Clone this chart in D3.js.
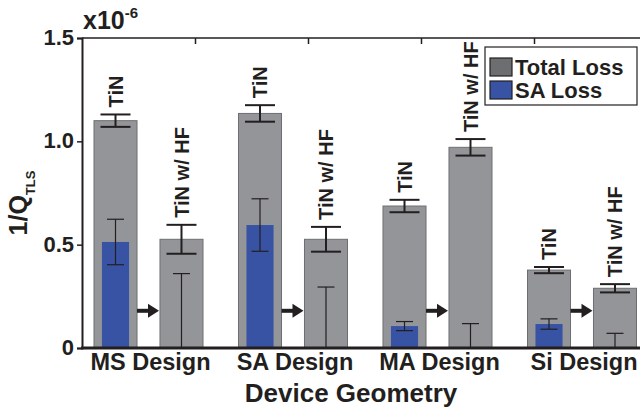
<!DOCTYPE html>
<html>
<head>
<meta charset="utf-8">
<script src="https://cdn.jsdelivr.net/npm/d3@7"></script>
<style>
  body { margin: 0; background: #fff; }
  text { font-family: "Liberation Sans", Arial, sans-serif; font-weight: bold; fill: #231f20; }
</style>
</head>
<body>
<div id="chart"></div>
<script>
// values (units of 1e-6)
const groups = ["MS Design", "SA Design", "MA Design", "Si Design"];
const conditions = ["TiN", "TiN w/ HF"];
const totalTiN = [1.10, 1.135, 0.687, 0.377];
const totalTiNErr = [0.03, 0.04, 0.03, 0.015];
const totalHF = [0.526, 0.526, 0.971, 0.289];
const totalHFErr = [0.07, 0.06, 0.04, 0.02];
const saTiN = [0.513, 0.595, 0.106, 0.116];
const saTiNErr = [0.11, 0.127, 0.022, 0.025];
const saHF = [0, 0, 0, 0];
const saHFErr = [0.36, 0.295, 0.118, 0.071];
const yTicks = [0, 0.5, 1.0, 1.5];
const yTickLabels = ["0", "0.5", "1.0", "1.5"];
const topTicks = [1, 2, 3, 4];
const arrowLevel = 0.18;

const W = 640, H = 410;
const mLeft = 82, mTop = 38, mBottom = 348, mRight = 647;

const svg = d3.select("#chart").append("svg").attr("width", W).attr("height", H);

const y = d3.scaleLinear().domain([0, 1.5]).range([mBottom, mTop]);
const xTop = d3.scaleLinear().domain([0, 5]).range([mLeft, mRight]);
const xGroup = d3.scaleBand().domain(groups).range([76.25, 654.25]);
const xSub = d3.scaleBand().domain(conditions).range([0, xGroup.bandwidth()])
  .paddingInner(0.348).paddingOuter(0.269);

const rows = [];
groups.forEach((g, i) => {
  rows.push({ g, c: conditions[0], total: totalTiN[i], totalErr: totalTiNErr[i], sa: saTiN[i], saErr: saTiNErr[i] });
  rows.push({ g, c: conditions[1], total: totalHF[i], totalErr: totalHFErr[i], sa: saHF[i], saErr: saHFErr[i] });
});
const cx = (d) => xGroup(d.g) + xSub(d.c) + xSub.bandwidth() / 2;
const bw = xSub.bandwidth();
const saW = bw * 0.63;

svg.append("clipPath").attr("id", "plot")
  .append("rect").attr("x", mLeft).attr("y", mTop).attr("width", W - mLeft).attr("height", mBottom - mTop);

const plot = svg.append("g").attr("clip-path", "url(#plot)");

// total loss bars
plot.selectAll("rect.total")
  .data(rows)
  .enter()
  .append("rect")
  .attr("class", "total")
  .attr("x", (d) => cx(d) - bw / 2)
  .attr("y", (d) => y(d.total))
  .attr("width", bw)
  .attr("height", (d) => mBottom - y(d.total))
  .attr("fill", "#939598")
  .attr("stroke", "#6d6e71")
  .attr("stroke-width", 1);

// SA loss bars
plot.selectAll("rect.sa")
  .data(rows.filter((d) => d.sa > 0))
  .enter()
  .append("rect")
  .attr("class", "sa")
  .attr("x", (d) => cx(d) - saW / 2)
  .attr("y", (d) => y(d.sa))
  .attr("width", saW)
  .attr("height", (d) => mBottom - y(d.sa))
  .attr("fill", "#3953a4");

function errorBars(sel, val, err, cap, sw) {
  const g = sel.append("g").attr("stroke", "#231f20").attr("stroke-width", sw);
  rows.forEach((d) => {
    const x0 = cx(d), lo = y(d[val] - d[err]), hi = y(d[val] + d[err]);
    g.append("line").attr("x1", x0).attr("x2", x0).attr("y1", lo).attr("y2", hi);
    g.append("line").attr("x1", x0 - cap / 2).attr("x2", x0 + cap / 2).attr("y1", hi).attr("y2", hi);
    g.append("line").attr("x1", x0 - cap / 2).attr("x2", x0 + cap / 2).attr("y1", lo).attr("y2", lo);
  });
}
errorBars(plot, "sa", "saErr", 17, 1.2);
errorBars(plot, "total", "totalErr", 30, 2);

// arrows TiN -> TiN w/ HF
groups.forEach((g) => {
  const x1 = xGroup(g) + xSub(conditions[0]) + bw;
  const x2 = xGroup(g) + xSub(conditions[1]);
  const ya = y(arrowLevel);
  plot.append("line").attr("x1", x1).attr("x2", x2 - 9).attr("y1", ya).attr("y2", ya)
    .attr("stroke", "#231f20").attr("stroke-width", 4);
  plot.append("path")
    .attr("d", `M${x2 - 12},${ya - 7}L${x2 - 1},${ya}L${x2 - 12},${ya + 7}Z`)
    .attr("fill", "#231f20");
});

// rotated bar labels
svg.selectAll("text.cond")
  .data(rows)
  .enter()
  .append("text")
  .attr("class", "cond")
  .attr("transform", (d) => `translate(${cx(d)},${y(d.total + d.totalErr) - 7}) rotate(-90)`)
  .attr("dy", "0.36em")
  .attr("font-size", 20)
  .text((d) => d.c);

// axes
svg.append("g")
  .attr("transform", `translate(0,${mTop})`)
  .call(d3.axisBottom(xTop).tickValues(topTicks).tickSize(6).tickFormat(""))
  .call((g) => g.select(".domain").remove())
  .call((g) => g.selectAll("line").attr("stroke", "#231f20").attr("stroke-width", 1.5));
svg.append("line").attr("x1", mLeft).attr("x2", W).attr("y1", mTop).attr("y2", mTop)
  .attr("stroke", "#231f20").attr("stroke-width", 1.5);

const yAxis = svg.append("g")
  .attr("transform", `translate(${mLeft},0)`)
  .call(d3.axisLeft(y).tickValues(yTicks).tickSize(5).tickPadding(3).tickFormat((d, i) => yTickLabels[i]));
yAxis.select(".domain").attr("stroke", "#231f20").attr("stroke-width", 2);
yAxis.selectAll("line").attr("stroke", "#231f20").attr("stroke-width", 1.5);
yAxis.selectAll("text").attr("font-size", 22).attr("fill", "#231f20")
  .attr("font-family", "Liberation Sans, Arial, sans-serif").attr("font-weight", "bold").attr("dy", "0.3em");

svg.append("line").attr("x1", mLeft - 1).attr("x2", W).attr("y1", mBottom).attr("y2", mBottom)
  .attr("stroke", "#231f20").attr("stroke-width", 3);

// exponent
const expo = svg.append("text").attr("x", 83).attr("y", 29).attr("font-size", 25);
expo.append("tspan").text("x10");
expo.append("tspan").attr("font-size", 15).attr("dy", -11).text("-6");

// category labels
svg.selectAll("text.cat")
  .data(groups)
  .enter()
  .append("text")
  .attr("class", "cat")
  .attr("x", (d) => xGroup(d) + xGroup.bandwidth() / 2 + 2)
  .attr("y", 370)
  .attr("text-anchor", "middle")
  .attr("font-size", 23.5)
  .text((d) => d);

svg.append("text")
  .attr("x", 351).attr("y", 402)
  .attr("text-anchor", "middle")
  .attr("font-size", 26)
  .text("Device Geometry");

const yl = svg.append("text")
  .attr("transform", "translate(27,203) rotate(-90)")
  .attr("text-anchor", "middle")
  .attr("font-size", 25);
yl.append("tspan").text("1/Q");
yl.append("tspan").attr("font-size", 13).attr("dy", 8).text("TLS");

// legend
const leg = svg.append("g");
leg.append("rect").attr("x", 485).attr("y", 47).attr("width", 152).attr("height", 58)
  .attr("fill", "#fff").attr("stroke", "#231f20").attr("stroke-width", 1.2);
const legItems = [
  { label: "Total Loss", fill: "#6d6e70", y: 58 },
  { label: "SA Loss", fill: "#3953a4", y: 81 },
];
legItems.forEach((it) => {
  leg.append("rect").attr("x", 490).attr("y", it.y).attr("width", 22).attr("height", 18)
    .attr("fill", it.fill).attr("stroke", "#231f20").attr("stroke-width", 1.2);
  leg.append("text").attr("x", 515).attr("y", it.y + 16.5).attr("font-size", 22).text(it.label);
});
</script>
</body>
</html>
